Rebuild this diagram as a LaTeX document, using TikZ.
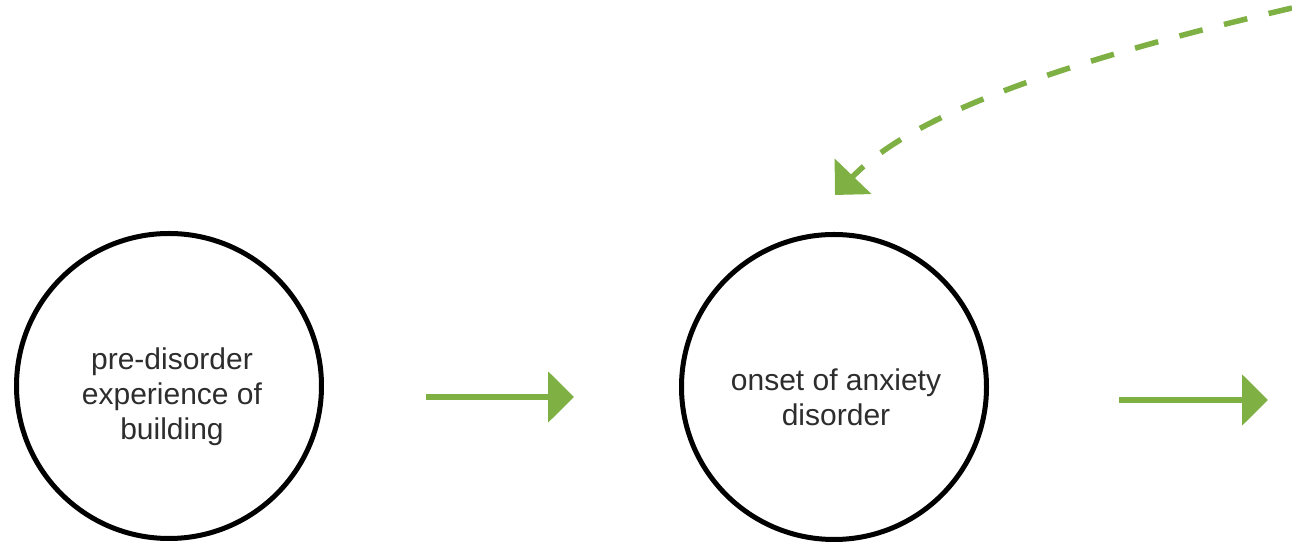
\documentclass[tikz,border=0pt]{standalone}
\usepackage{fontspec}
\setmainfont{Liberation Sans}
\usetikzlibrary{arrows.meta}
\definecolor{leaf}{RGB}{126,176,68}
\definecolor{ink}{RGB}{45,45,45}
\begin{document}
\begin{tikzpicture}[x=0.5pt,y=-0.5pt,
     stage/.style={shape=circle,draw=black,line width=2.5pt,minimum size=152.5pt,inner sep=0pt},
     stagetext/.style={text=ink,align=center,font=\fontsize{15pt}{17.5pt}\selectfont},
     flow/.style={draw=leaf,line width=3pt,-{Triangle[length=13pt,width=25pt]}},
     feedback/.style={draw=leaf,line width=2.75pt,dash pattern=on 12pt off 11pt,-{Triangle[length=13pt,width=25pt]}}]

     \useasboundingbox (0,0) rectangle (1292,544);

     \node[stage] (pre)  at (169,386){};
     \node[stagetext] (pren)  at (172,397){pre-disorder\\experience of\\building};
     \node[stage] (onset)  at (834,387){};
     \node[stagetext] (onsetn)  at (836,397){onset of anxiety\\disorder};

     \coordinate (f1s) at (426,397);
     \coordinate (f1e) at (574,397);
     \coordinate (f2s) at (1119,400);
     \coordinate (f2e) at (1268,400);

     \coordinate (back) at (1292,8);
     \coordinate (backe) at (835,195);


     \draw [flow] (f1s) to  (f1e);
     \draw [flow] (f2s) to  (f2e);

     \draw [feedback] (back) .. controls (1070,60) and (915,112) .. (backe);

     \end{tikzpicture}
\end{document}
